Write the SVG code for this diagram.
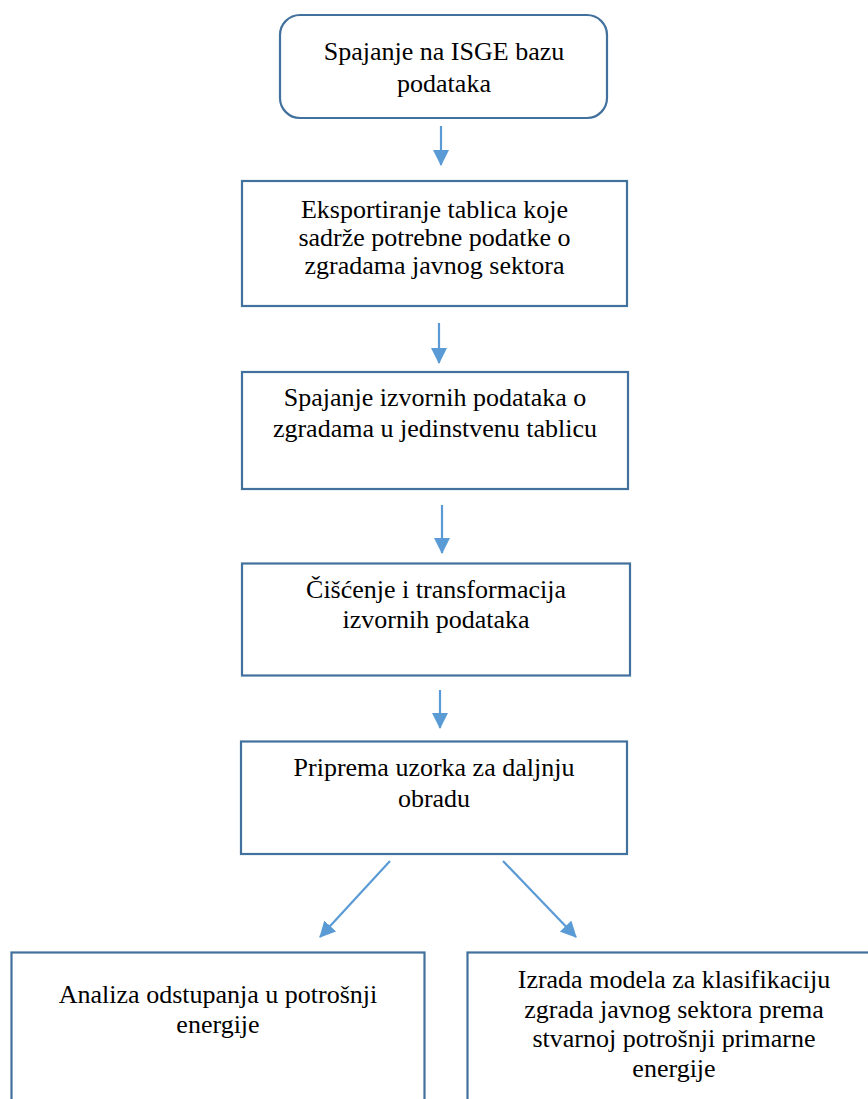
<svg xmlns="http://www.w3.org/2000/svg" width="868" height="1099" viewBox="0 0 868 1099">
<style>
.box{fill:#ffffff;stroke:#41719C;stroke-width:2.2}
.t{font-family:"Liberation Serif","Times New Roman",serif;font-size:26px;fill:#000;text-anchor:middle}
.c{stroke:#5B9BD5;stroke-width:2.2;fill:none}
</style>
<defs>
<marker id="ah" markerWidth="8" markerHeight="8" refX="7.5" refY="4" orient="auto" markerUnits="userSpaceOnUse" viewBox="0 0 8 8">
<path d="M0,0 L8,4 L0,8 Z" fill="#5B9BD5"/>
</marker>
<marker id="ah2" viewBox="0 0 16 16" refX="15" refY="8" markerWidth="16" markerHeight="16" orient="auto" markerUnits="userSpaceOnUse">
<path d="M0,0 L16,8 L0,16 Z" fill="#5B9BD5"/>
</marker>
</defs>
<rect width="868" height="1099" fill="#ffffff"/>
<g id="connectors">
<line class="c" x1="441" y1="126" x2="441" y2="165" marker-end="url(#ah2)"/>
<line class="c" x1="439" y1="323" x2="439" y2="363" marker-end="url(#ah2)"/>
<line class="c" x1="442" y1="505" x2="442" y2="553" marker-end="url(#ah2)"/>
<line class="c" x1="440" y1="690" x2="440" y2="728" marker-end="url(#ah2)"/>
<line class="c" x1="390" y1="861" x2="320" y2="937" marker-end="url(#ah2)"/>
<line class="c" x1="503" y1="861" x2="576" y2="937" marker-end="url(#ah2)"/>
</g>
<g id="n1">
<rect class="box" x="280" y="15" width="327" height="103" rx="20" ry="20"/>
<text class="t" x="444" y="60">Spajanje na ISGE bazu</text>
<text class="t" x="444" y="92">podataka</text>
</g>
<g id="n2">
<rect class="box" x="242" y="181" width="385" height="125"/>
<text class="t" x="434.5" y="218">Eksportiranje tablica koje</text>
<text class="t" x="434.5" y="246">sadrže potrebne podatke o</text>
<text class="t" x="434.5" y="274">zgradama javnog sektora</text>
</g>
<g id="n3">
<rect class="box" x="242" y="372" width="386" height="117"/>
<text class="t" x="435" y="406">Spajanje izvornih podataka o</text>
<text class="t" x="435" y="436.5">zgradama u jedinstvenu tablicu</text>
</g>
<g id="n4">
<rect class="box" x="242" y="563.5" width="388" height="112"/>
<text class="t" x="436" y="597.5">Čišćenje i transformacija</text>
<text class="t" x="436" y="628">izvornih podataka</text>
</g>
<g id="n5">
<rect class="box" x="241" y="741.5" width="386" height="112.5"/>
<text class="t" x="434" y="776">Priprema uzorka za daljnju</text>
<text class="t" x="434" y="806.5">obradu</text>
</g>
<g id="n6">
<rect class="box" x="11.5" y="952.5" width="413" height="160"/>
<text class="t" x="218" y="1003">Analiza odstupanja u potrošnji</text>
<text class="t" x="218" y="1033">energije</text>
</g>
<g id="n7">
<rect class="box" x="467.5" y="952.5" width="414" height="160"/>
<text class="t" x="674" y="988">Izrada modela za klasifikaciju</text>
<text class="t" x="674" y="1017.5">zgrada javnog sektora prema</text>
<text class="t" x="674" y="1047">stvarnoj potrošnji primarne</text>
<text class="t" x="674" y="1077">energije</text>
</g>
</svg>
